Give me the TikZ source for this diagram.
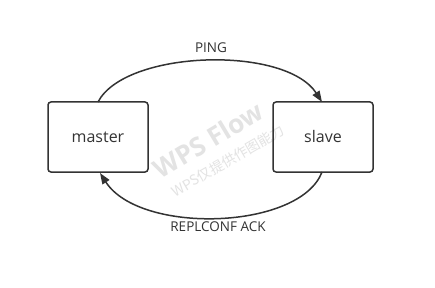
\documentclass[tikz,border=0pt]{standalone}
\usepackage{fontspec}
\setmainfont{Open Sans}
\newfontfamily\cjkfont{Noto Sans CJK SC}
\usetikzlibrary{arrows.meta}
\definecolor{ink}{HTML}{333333}
\definecolor{wm}{HTML}{E3E3E3}
\begin{document}
\begin{tikzpicture}[x=1pt,y=-1pt,
  role/.style={draw=ink,line width=1.5pt,rounded corners=3pt,minimum width=100pt,minimum height=70pt,inner sep=0pt,font=\fontsize{16}{19}\selectfont,text=ink},
  link/.style={draw=ink,line width=1.5pt,-{Triangle[length=11pt,width=8pt]}},
  tag/.style={font=\fontsize{13.5}{16}\selectfont,text=ink}]
\useasboundingbox[fill=white] (0,0) rectangle (435,288);
% watermark
\node[text=wm,font=\fontsize{26}{30}\selectfont\bfseries,rotate=31] (wmark) at (208,140) {WPS Flow};
\node[text=wm,font=\cjkfont\fontsize{14}{16}\selectfont,rotate=30] (wnote) at (228,161) {WPS仅提供作图能力};
% the two servers
\node[role] (master) at (98,137) {master};
\node[role] (slave) at (323,137) {slave};
% messages
\coordinate (mtop) at (98,102);
\coordinate (stop) at (322,102);
\coordinate (sbot) at (322,172);
\coordinate (mbot) at (100,173);
\draw[link] (mtop) .. controls (125,50) and (285,45) .. (stop);
\draw[link] (sbot) .. controls (300,230) and (140,235) .. (mbot);
\node[tag] (ping) at (211,48) {PING};
\node[tag] (ack) at (218,227) {REPLCONF ACK};
\end{tikzpicture}
\end{document}
